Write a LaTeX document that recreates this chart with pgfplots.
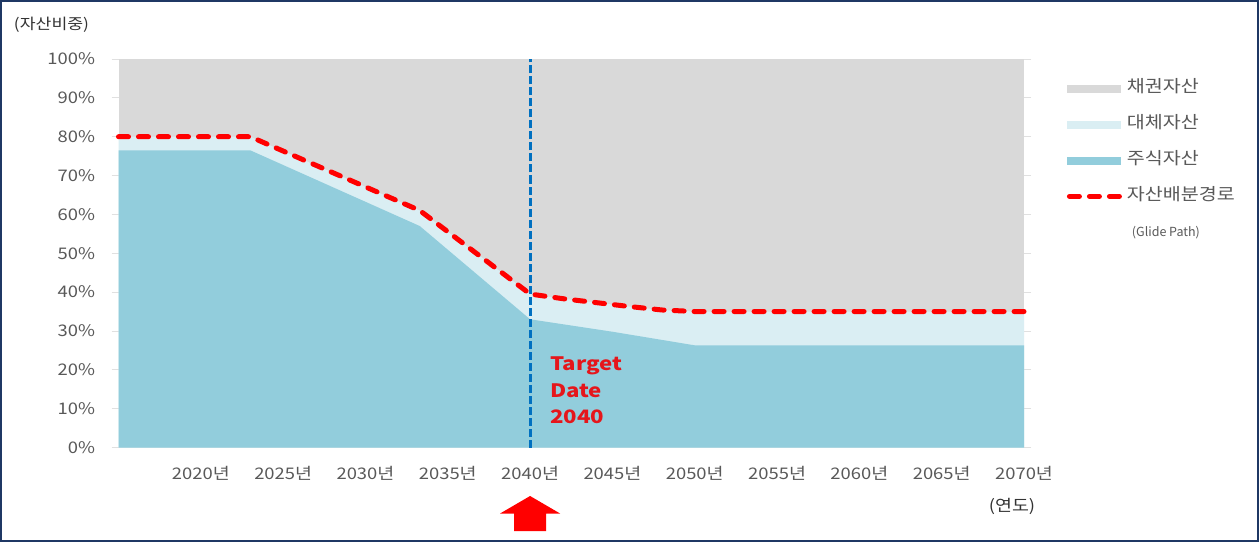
\documentclass[border=0pt]{standalone}
\usepackage{fontspec}
\setmainfont{Noto Sans CJK KR}
\newfontfamily\widefont[FakeStretch=1.15]{Noto Sans CJK KR}
\newfontfamily\tdfont[FakeStretch=1.2]{Noto Sans CJK KR}
\usepackage{pgfplots}
\pgfplotsset{compat=1.18}
\definecolor{bondgray}{HTML}{D9D9D9}
\definecolor{altblue}{HTML}{DAEEF3}
\definecolor{stockblue}{HTML}{92CDDC}
\definecolor{glidered}{HTML}{FF0000}
\definecolor{tdred}{HTML}{E5161B}
\definecolor{tdblue}{HTML}{0070C0}
\definecolor{txtgray}{HTML}{595959}
\definecolor{framecol}{HTML}{1F3864}

\begin{document}
\begin{tikzpicture}
\useasboundingbox (0pt,0pt) rectangle (1259pt,542pt);
\fill[white] (0pt,0pt) rectangle (1259pt,542pt);
\begin{axis}[
  at={(118.5pt,94.5pt)}, anchor=south west,
  scale only axis, width=905.5pt, height=388.5pt,
  xmin=2015, xmax=2070, ymin=0, ymax=100,
  axis background/.style={fill=bondgray},
  axis line style={draw=none},
  xtick={2020,2025,2030,2035,2040,2045,2050,2055,2060,2065,2070},
  xticklabels={2020년,2025년,2030년,2035년,2040년,2045년,2050년,2055년,2060년,2065년,2070년},
  ytick={0,10,20,30,40,50,60,70,80,90,100},
  yticklabels={0\%,10\%,20\%,30\%,40\%,50\%,60\%,70\%,80\%,90\%,100\%},
  xtick style={draw=none},
  ytick style={draw=black!12, line width=0.8pt},
  ytick pos=both, yticklabel pos=left,
  tick align=outside, major tick length=7pt,
  ticklabel style={font=\widefont\fontsize{16}{18}\selectfont, text=txtgray},
  yticklabel style={xshift=-13pt},
  xticklabel style={yshift=-8pt},
  clip=false,
  legend style={draw=none, fill=none, inner sep=0pt, outer sep=0pt,
    at={(1.0472,0.945)}, anchor=north west,
    font=\widefont\fontsize{17}{20}\selectfont, text=txtgray, row sep=20pt,
    nodes={inner sep=0pt, text height=12pt, text depth=4pt},
    /tikz/every odd column/.append style={column sep=5pt}},
  legend cell align=left,
]
\addlegendimage{legend image code/.code={\fill[bondgray] (0pt,-3.5pt) rectangle (53pt,3.5pt);}}
\addlegendentry{채권자산}
\addlegendimage{legend image code/.code={\fill[altblue] (0pt,-3.5pt) rectangle (53pt,3.5pt);}}
\addlegendentry{대체자산}
\addlegendimage{legend image code/.code={\fill[stockblue] (0pt,-3.5pt) rectangle (53pt,3.5pt);}}
\addlegendentry{주식자산}
\addlegendimage{legend image code/.code={\draw[glidered, line width=5pt, dash pattern=on 10pt off 10pt, line cap=round] (2.5pt,0pt) -- (52.5pt,0pt);}}
\addlegendentry{자산배분경로}
\addlegendimage{empty legend}
\addlegendentry{\hspace{5pt}\normalfont\fontsize{12.5}{14}\selectfont (Glide Path)}

\addplot[fill=altblue, draw=none, forget plot] coordinates {
 (2015,80) (2023,80) (2033.3,61) (2040,39.5) (2042,38.3) (2044,37.3) (2046,36.3) (2048,35.4) (2050,35) (2070,35)} \closedcycle;
\addplot[fill=stockblue, draw=none, forget plot] coordinates {
 (2015,76.5) (2023,76.5) (2033.3,57) (2040,33) (2045,29.8) (2050,26.3) (2070,26.3)} \closedcycle;
\addplot[tdblue, line width=3pt, dash pattern=on 8pt off 3pt, forget plot] coordinates {(2040,0) (2040,100)};
\addplot[glidered, line width=5pt, dash pattern=on 10pt off 10pt, line cap=round, forget plot] coordinates {
 (2015,80) (2023,80) (2033.3,61) (2040,39.5) (2042,38.3) (2044,37.3) (2046,36.3) (2048,35.4) (2050,35) (2070,35)};
\coordinate (T) at (axis cs:2040,0);
\end{axis}
\node[anchor=north west, align=left, text=tdred, font=\tdfont\bfseries\fontsize{18.5}{26.5}\selectfont, inner sep=0pt] at (550pt,185pt) {Target\\Date\\2040};
\fill[glidered] ([yshift=-48.5pt]T) -- ++(30pt,-17.5pt) -- ++(-14pt,0pt) -- ++(0pt,-17.5pt) -- ++(-32pt,0pt) -- ++(0pt,17.5pt) -- ++(-14pt,0pt) -- cycle;
\node[text=black!80, font=\widefont\fontsize{15}{17}\selectfont, inner sep=0pt] at (51.5pt,517pt) {(자산비중)};
\node[text=black!80, font=\widefont\fontsize{16}{18}\selectfont, inner sep=0pt] at (1012pt,36pt) {(연도)};
\draw[framecol, line width=2pt] (1pt,1pt) rectangle (1258pt,541pt);
\end{tikzpicture}
\end{document}
